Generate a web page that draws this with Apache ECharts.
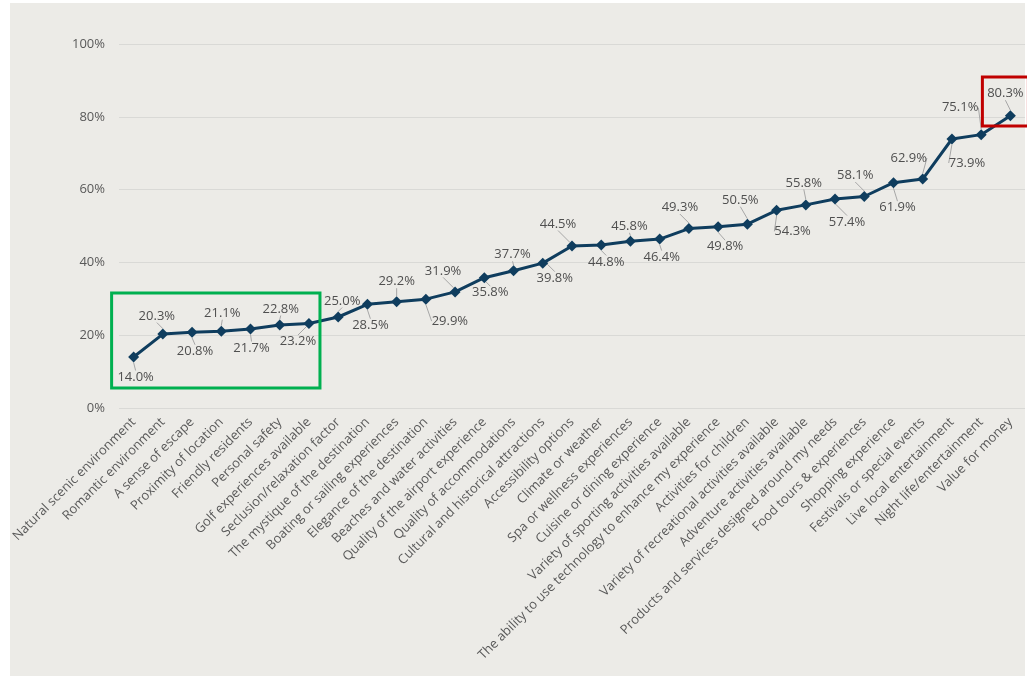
<!DOCTYPE html>
<html>
<head>
<meta charset="utf-8">
<script src="https://cdn.jsdelivr.net/npm/echarts@6/dist/echarts.min.js"></script>
<style>
  html, body { margin: 0; padding: 0; background: #ffffff; }
  #panel { position: absolute; left: 10px; top: 3px; width: 1015px; height: 673px; background: #ecebe7; }
  #chart { position: absolute; left: 0; top: 0; width: 1027px; height: 678px; }
</style>
</head>
<body>
<div id="panel"></div>
<div id="chart"></div>
<script>
const categories = [
  'Natural scenic environment', 'Romantic environment', 'A sense of escape', 'Proximity of location',
  'Friendly residents', 'Personal safety', 'Golf experiences available', 'Seclusion/relaxation factor',
  'The mystique of the destination', 'Boating or sailing experiences', 'Elegance of the destination',
  'Beaches and water activities', 'Quality of the airport experience', 'Quality of accommodations',
  'Cultural and historical attractions', 'Accessibility options', 'Climate or weather',
  'Spa or wellness experiences', 'Cuisine or dining experience', 'Variety of sporting activities available',
  'The ability to use technology to enhance my experience', 'Activities for children',
  'Variety of recreational activities available', 'Adventure activities available',
  'Products and services designed around my needs', 'Food tours & experiences', 'Shopping experience',
  'Festivals or special events', 'Live local entertainment', 'Night life/entertainment', 'Value for money'
];
const values = [
  14.0, 20.3, 20.8, 21.1, 21.7, 22.8, 23.2, 25.0, 28.5, 29.2, 29.9,
  31.9, 35.8, 37.7, 39.8, 44.5, 44.8, 45.8, 46.4, 49.3, 49.8, 50.5,
  54.3, 55.8, 57.4, 58.1, 61.9, 62.9, 73.9, 75.1, 80.3
];
const yTicks = [0, 20, 40, 60, 80, 100];

// label placement (pixel offsets of each data label from its point)
const labelOffsets = [
  [2, 20], [-6, -18], [3, 19], [1, -18], [1, 19], [1, -16], [-11, 18], [4, -16],
  [3, 21], [0, -20], [24, 22], [-12, -21], [6, 15], [-1, -16], [12, 15], [-14, -22],
  [5, 17], [-1, -15], [2, 18], [-9, -21], [7, 20], [-7, -24], [16, 21], [-2, -22],
  [12, 23], [-9, -21], [4, 25], [-14, -21], [15, 24], [-21, -27], [-5, -22]
];

const FONT = 'Open Sans';
const chart = echarts.init(document.getElementById('chart'), null, { renderer: 'canvas' });

chart.setOption({
  backgroundColor: 'transparent',
  animation: false,
  grid: { left: 119, right: 2, top: 44, bottom: 270, containLabel: false },
  xAxis: {
    type: 'category',
    data: categories,
    boundaryGap: true,
    axisLine: { show: false },
    axisTick: { show: false },
    axisLabel: {
      interval: 0, rotate: 45, margin: 12,
      color: '#595959', fontFamily: FONT, fontSize: 13
    }
  },
  yAxis: {
    type: 'value',
    min: yTicks[0], max: yTicks[yTicks.length - 1], interval: 20,
    axisLine: { show: false },
    axisTick: { show: false },
    axisLabel: {
      formatter: v => v + '%', margin: 14,
      color: '#595959', fontFamily: FONT, fontSize: 13
    },
    splitLine: { lineStyle: { color: '#d9d9d6', width: 1 } }
  },
  series: [{
    type: 'line',
    data: values,
    symbol: 'diamond',
    symbolSize: 11,
    lineStyle: { color: '#0f3d5e', width: 3 },
    itemStyle: { color: '#0f3d5e' },
    label: {
      show: true,
      position: 'top',
      formatter: p => p.value.toFixed(1) + '%',
      color: '#4f4f4f', fontFamily: FONT, fontSize: 13
    },
    labelLine: { show: true, lineStyle: { color: '#a6a6a6', width: 1 } },
    labelLayout: function (params) {
      const o = labelOffsets[params.dataIndex] || [0, -18];
      const cx = params.rect.x + params.rect.width / 2;
      const cy = params.rect.y + params.rect.height / 2;
      return { x: cx + o[0], y: cy + o[1], align: 'center', verticalAlign: 'middle' };
    }
  }]
});

// annotation boxes, placed from data positions
const px = (i, v) => chart.convertToPixel({ gridIndex: 0 }, [i, v]);
const g0 = px(0, 31.6), g1 = px(6, 5.5);
const r0 = px(30, 90.9), r1 = px(30, 77.5);
chart.setOption({
  graphic: [
    {
      type: 'rect', z: 100,
      shape: { x: g0[0] - 22, y: g0[1], width: (g1[0] + 11) - (g0[0] - 22), height: g1[1] - g0[1] },
      style: { fill: 'none', stroke: '#00b050', lineWidth: 3 }
    },
    {
      type: 'rect', z: 100,
      shape: { x: r0[0] - 28, y: r0[1], width: 46, height: r1[1] - r0[1] },
      style: { fill: 'none', stroke: '#c00000', lineWidth: 3 }
    }
  ]
});
</script>
</body>
</html>
